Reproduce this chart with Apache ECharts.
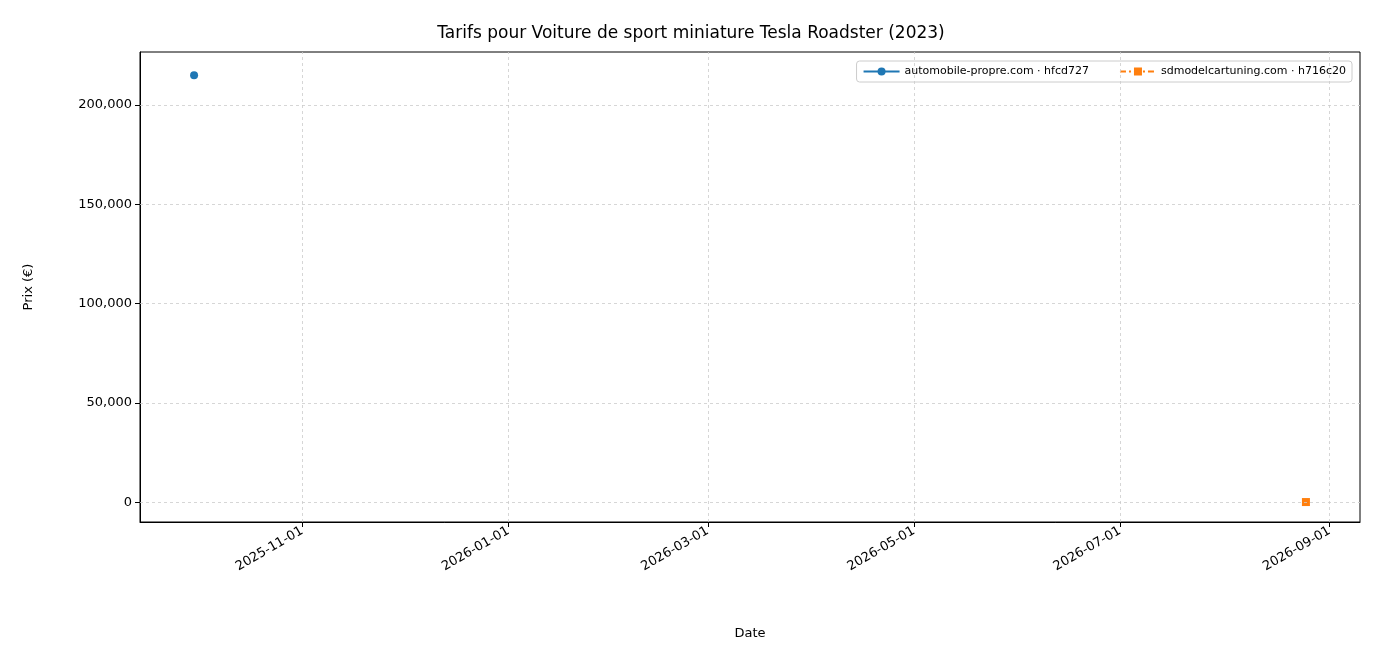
<!DOCTYPE html>
<html><head><meta charset="utf-8">
<script src="https://cdn.jsdelivr.net/npm/echarts@6/dist/echarts.min.js"></script>
<style>html,body{margin:0;padding:0;background:#fff}#c{width:1382px;height:662px}</style>
</head><body><div id="c"></div>
<script>
const seriesAName = 'automobile-propre.com · hfcd727';
const seriesADates = ['2025-09-30'];
const seriesAValues = [215000];
const seriesBName = 'sdmodelcartuning.com · h716c20';
const seriesBDates = ['2026-08-25'];
const seriesBValues = [50];
const xTickLabels = ['2025-11-01','2026-01-01','2026-03-01','2026-05-01','2026-07-01','2026-09-01'];
const yTicks = [0,50000,100000,150000,200000];

const ts = s => new Date(s + 'T00:00:00Z').getTime();
const xTicks = xTickLabels.map(ts);
const font = 'DejaVu Sans';
const chart = echarts.init(document.getElementById('c'));
const pad = n => String(n).padStart(2,'0');
chart.setOption({
  animation:false,
  textStyle:{fontFamily:font},
  title:{text:'Tarifs pour Voiture de sport miniature Tesla Roadster (2023)',left:'center',top:20,
    textStyle:{fontFamily:font,fontSize:17,fontWeight:'normal',color:'#000'}},
  grid:{left:140,right:22,top:52,bottom:140,show:true,borderColor:'#000',borderWidth:1},
  legend:{top:61,right:30,itemGap:30,itemWidth:36,itemHeight:10,borderColor:'#ccc',borderWidth:1,borderRadius:3,padding:[5,6],
    textStyle:{fontFamily:font,fontSize:11,color:'#000'}},
  xAxis:{type:'value',min:ts('2025-09-14'),max:ts('2026-09-10'),name:'Date',nameLocation:'middle',nameGap:105,
    nameTextStyle:{fontFamily:font,fontSize:13,color:'#000'},
    axisLine:{onZero:false,lineStyle:{color:'#000'}},
    axisTick:{customValues:xTicks,length:5,lineStyle:{color:'#000'}},
    axisLabel:{customValues:xTicks,rotate:30,fontSize:13,color:'#000',fontFamily:font,margin:8,
      formatter:v=>{const d=new Date(v);return d.getUTCFullYear()+'-'+pad(d.getUTCMonth()+1)+'-'+pad(d.getUTCDate());}},
    splitLine:{show:false}},
  yAxis:{type:'value',min:-10000,max:226700,name:'Prix (€)',nameLocation:'middle',nameGap:105,
    nameTextStyle:{fontFamily:font,fontSize:13,color:'#000'},
    axisLine:{show:true,lineStyle:{color:'#000'}},
    axisTick:{show:true,customValues:yTicks,length:5,lineStyle:{color:'#000'}},
    axisLabel:{customValues:yTicks,fontSize:13,color:'#000',fontFamily:font},
    splitLine:{show:false}},
  series:[
    {name:seriesAName,type:'line',data:seriesADates.map((d,i)=>[ts(d),seriesAValues[i]]),
     color:'#1f77b4',symbol:'circle',symbolSize:8,lineStyle:{width:2},
     markLine:{silent:true,symbol:'none',label:{show:false},lineStyle:{color:'#ccc',type:[3,3],width:0.8},
       data:xTicks.map(x=>({xAxis:x})).concat(yTicks.map(y=>({yAxis:y})))}},
    {name:seriesBName,type:'line',data:seriesBDates.map((d,i)=>[ts(d),seriesBValues[i]]),
     color:'#ff7f0e',symbol:'rect',symbolSize:8,lineStyle:{width:2,type:[6,3,2,3]}}
  ]
});
</script></body></html>
